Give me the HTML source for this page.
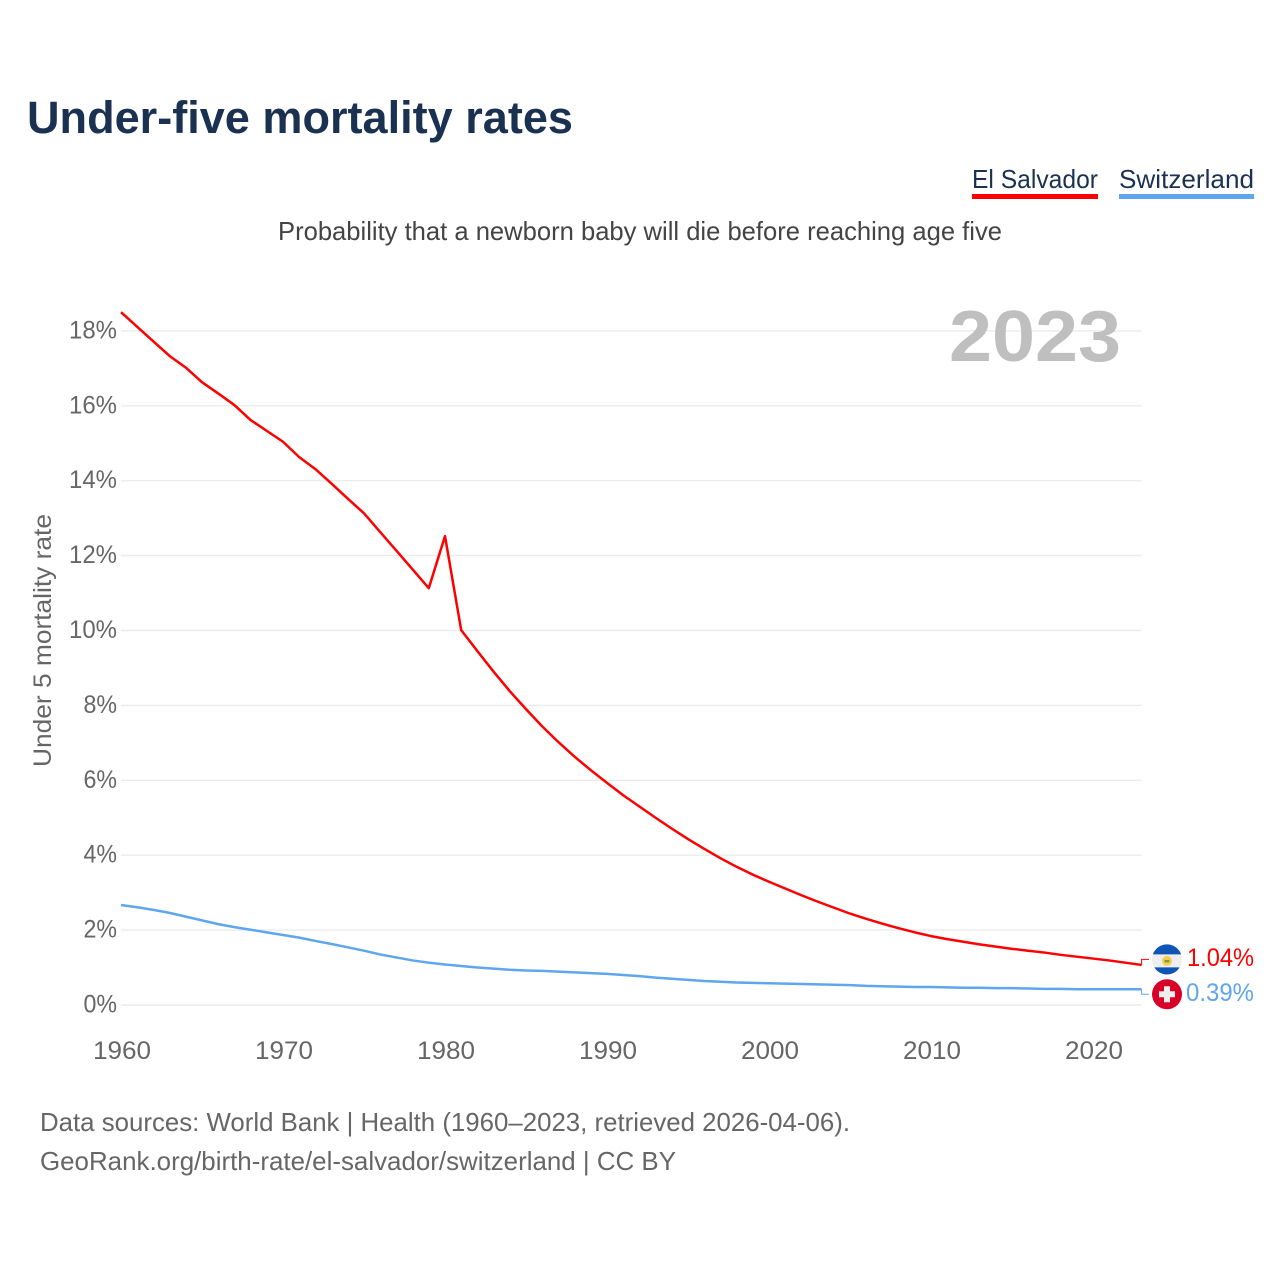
<!DOCTYPE html>
<html lang="en">
<head>
<meta charset="utf-8">
<title>Under-five mortality rates</title>
<style>
html,body{margin:0;padding:0;background:#fff;width:1280px;height:1280px;overflow:hidden}
svg{display:block;font-family:"Liberation Sans",sans-serif}
</style>
</head>
<body>
<svg id="chart" xmlns="http://www.w3.org/2000/svg" width="1280" height="1280" viewBox="0 0 1280 1280">
  <rect width="1280" height="1280" fill="#fff"/>
  <text x="27" y="133" font-size="45" font-weight="700" fill="#1a3152" textLength="546" lengthAdjust="spacingAndGlyphs">Under-five mortality rates</text>

  <g>
    <text x="972" y="188" font-size="26" fill="#1a3152" textLength="126" lengthAdjust="spacingAndGlyphs">El Salvador</text>
    <rect x="972" y="194" width="126" height="5" fill="#ff0000"/>
  </g>
  <g>
    <text x="1119" y="188" font-size="26" fill="#1a3152" textLength="135" lengthAdjust="spacingAndGlyphs">Switzerland</text>
    <rect x="1119" y="194" width="135" height="5" fill="#5ea6ee"/>
  </g>

  <text x="278" y="240" font-size="26" fill="#444" textLength="724" lengthAdjust="spacingAndGlyphs">Probability that a newborn baby will die before reaching age five</text>

  <g id="grid"></g>
  <g id="yticks"></g>
  <g id="xticks"></g>

  <text transform="translate(51,767) rotate(-90)" x="0" y="0" font-size="25" fill="#666" textLength="253" lengthAdjust="spacingAndGlyphs">Under 5 mortality rate</text>

  <text x="949" y="361" font-size="72" font-weight="700" fill="#bfbfbf" textLength="172" lengthAdjust="spacingAndGlyphs">2023</text>

  <g id="series"></g>

  <g id="flag-sv">
    <circle cx="0" cy="0" r="15" fill="#eeeeee"/>
    <path d="M-14.14 -5 A15 15 0 0 1 14.14 -5 Z" fill="#0f55b5"/>
    <path d="M-12.7 8 A15 15 0 0 0 12.7 8 Z" fill="#0f55b5"/>
    <circle cx="0" cy="1.5" r="5" fill="#f6d04d"/>
    <rect x="-2.5" y="0.5" width="5" height="2.5" fill="#7f9a55"/>
  </g>
  <g id="flag-ch">
    <circle cx="0" cy="0" r="15" fill="#d80027"/>
    <rect x="-8" y="-3" width="16" height="6" fill="#eeeeee"/>
    <rect x="-3" y="-8" width="6" height="16" fill="#eeeeee"/>
  </g>

  <text x="40" y="1131" font-size="26" fill="#666" textLength="810" lengthAdjust="spacingAndGlyphs">Data sources: World Bank | Health (1960–2023, retrieved 2026-04-06).</text>
  <text x="40" y="1170" font-size="26" fill="#666" textLength="636" lengthAdjust="spacingAndGlyphs">GeoRank.org/birth-rate/el-salvador/switzerland | CC BY</text>
</svg>
<script>
const startYear = 1960;
const elSalvador = [
  18.5, 18.11, 17.72, 17.33, 17.02, 16.63, 16.33, 16.02, 15.62, 15.33,
  15.04, 14.63, 14.31, 13.92, 13.52, 13.13, 12.63, 12.13, 11.63, 11.13,
  12.52, 10.01, 9.45, 8.9, 8.38, 7.9, 7.44, 7.02, 6.63, 6.27,
  5.93, 5.6, 5.3, 5.0, 4.71, 4.43, 4.17, 3.92, 3.69, 3.48,
  3.29, 3.11, 2.93, 2.76, 2.6, 2.44, 2.3, 2.17, 2.05, 1.94,
  1.84, 1.76, 1.69, 1.62, 1.56, 1.5, 1.45, 1.4, 1.34, 1.29,
  1.24, 1.19, 1.13, 1.07
];
const switzerland = [
  2.67, 2.61, 2.54, 2.46, 2.36, 2.26, 2.16, 2.08, 2.01, 1.94,
  1.87, 1.8, 1.71, 1.63, 1.54, 1.45, 1.35, 1.27, 1.19, 1.13,
  1.08, 1.04, 1.0, 0.97, 0.94, 0.92, 0.91, 0.89, 0.87, 0.85,
  0.83, 0.8, 0.77, 0.73, 0.7, 0.67, 0.64, 0.62, 0.6, 0.59,
  0.58, 0.57, 0.56, 0.55, 0.54, 0.53, 0.51, 0.5, 0.49, 0.48,
  0.48, 0.47, 0.46, 0.46, 0.45, 0.45, 0.44, 0.43, 0.43, 0.42,
  0.42, 0.42, 0.42, 0.42
];
const yTickValues = [0, 2, 4, 6, 8, 10, 12, 14, 16, 18];
const xTickValues = [1960, 1970, 1980, 1990, 2000, 2010, 2020];
const printedElSalvador = "1.04%";
const printedSwitzerland = "0.39%";

const NS = "http://www.w3.org/2000/svg";
const xScale = year => 121 + (year - startYear) * 16.2;
const yScale = value => 1005 - value * 37.45;
const plotRight = xScale(2023);

function make(tag, attrs, parent, text) {
  const el = document.createElementNS(NS, tag);
  for (const k in attrs) el.setAttribute(k, attrs[k]);
  if (text !== undefined) el.textContent = text;
  parent.appendChild(el);
  return el;
}

const gridGroup = document.getElementById("grid");
const yGroup = document.getElementById("yticks");
const xGroup = document.getElementById("xticks");
const seriesGroup = document.getElementById("series");

yTickValues.forEach(v => {
  const line = make("line", {x1: 121, x2: plotRight, y1: yScale(v), y2: yScale(v), stroke: "#ececec", "stroke-width": 1.4}, gridGroup);
  
  
  const label = v + "%";
  const w = (label.length - 1) * 14.5 + 19;
  const t = make("text", {x: 117 - w, y: yScale(v) + 7.5, "font-size": 25, fill: "#666", textLength: w, lengthAdjust: "spacingAndGlyphs"}, yGroup, label);
  
  
});

xTickValues.forEach(v => {
  const t = make("text", {x: xScale(v) - 28, y: 1059, "font-size": 25, fill: "#666", textLength: 58, lengthAdjust: "spacingAndGlyphs"}, xGroup, String(v));
  
  
});

function pathFor(values) {
  return values.map((v, i) => (i ? "L" : "M") + xScale(startYear + i).toFixed(2) + " " + yScale(v).toFixed(2)).join(" ");
}

const blueLine = make("path", {d: pathFor(switzerland), fill: "none", stroke: "#5ea6ee", "stroke-width": 2.5, "stroke-linejoin": "round"}, seriesGroup);


const redLine = make("path", {d: pathFor(elSalvador), fill: "none", stroke: "#ff0000", "stroke-width": 2.5, "stroke-linejoin": "round"}, seriesGroup);



const redEnd = yScale(elSalvador[elSalvador.length - 1]);
const blueEnd = yScale(switzerland[switzerland.length - 1]);
const redLabelY = redEnd - 5.5;
const blueLabelY = blueEnd + 5;

const redConn = make("path", {d: `M${plotRight} ${redEnd} V${redLabelY} H1149`, fill: "none", stroke: "#ff0000", "stroke-width": 1}, seriesGroup);


const blueConn = make("path", {d: `M${plotRight} ${blueEnd} V${blueLabelY} H1149`, fill: "none", stroke: "#5ea6ee", "stroke-width": 1}, seriesGroup);



document.getElementById("flag-sv").setAttribute("transform", `translate(1167,${redLabelY})`);
document.getElementById("flag-ch").setAttribute("transform", `translate(1167,${blueLabelY})`);

const redValue = make("text", {x: 1187, y: redLabelY + 6.5, "font-size": 25, fill: "#ff0000", textLength: 67, lengthAdjust: "spacingAndGlyphs"}, seriesGroup, printedElSalvador);


const blueValue = make("text", {x: 1186, y: blueLabelY + 6.5, "font-size": 25, fill: "#5ea6ee", textLength: 68, lengthAdjust: "spacingAndGlyphs"}, seriesGroup, printedSwitzerland);


</script>
</body>
</html>
